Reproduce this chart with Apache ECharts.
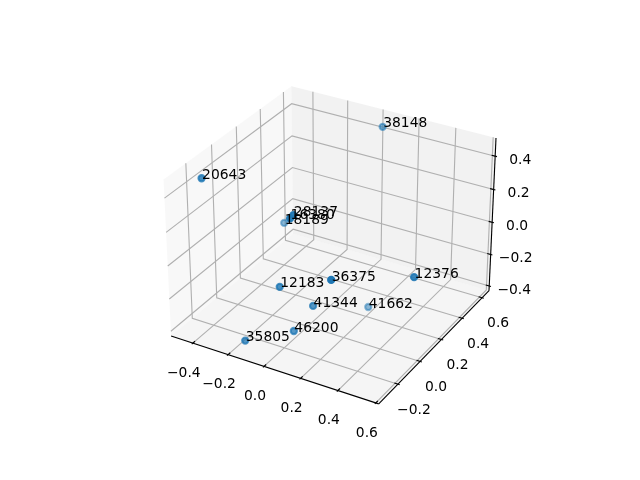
<!DOCTYPE html>
<html>
<head>
<meta charset="utf-8">
<style>html,body{margin:0;background:#fff}#chart{width:640px;height:480px}</style>
<script src="https://cdn.jsdelivr.net/npm/echarts@6/dist/echarts.min.js"></script>
</head>
<body>
<div id="chart"></div>
<script>
var pointLabels = ['38148', '20643', '28137', '16380', '18189', '12376', '36375', '12183', '41344', '41662', '46200', '35805'];
var xValues = [0.060, -0.438, 0.068, 0.059, -0.284, 0.575, 0.335, 0.004, 0.117, 0.177, 0.068, -0.119];
var yValues = [0.568, -0.202, -0.214, -0.227, 0.234, -0.004, -0.321, -0.236, -0.133, 0.259, -0.221, -0.343];
var zValues = [0.473, 0.447, 0.394, 0.380, -0.025, 0.068, 0.172, -0.033, -0.176, -0.417, -0.288, -0.331];

var xLimits = [-0.525, 0.615];
var yLimits = [-0.368, 0.671];
var zLimits = [-0.43, 0.507];
var xTicks = [-0.4, -0.2, 0, 0.2, 0.4, 0.6];
var yTicks = [-0.2, 0, 0.2, 0.4, 0.6];
var zTicks = [-0.4, -0.2, 0, 0.2, 0.4];
var xTickLabels = ['\u22120.4', '\u22120.2', '0.0', '0.2', '0.4', '0.6'];
var yTickLabels = ['\u22120.2', '0.0', '0.2', '0.4', '0.6'];
var zTickLabels = ['\u22120.4', '\u22120.2', '0.0', '0.2', '0.4'];

// same camera as a default matplotlib 3d axes: azim -60, elev 30, dist 10
var boxSize = [1.1905, 1.1905, 0.8929];
var camU = [0.866025, 0.5, 0];
var camV = [-0.25, 0.433013, 0.866025];
var camW = [0.433013, -0.75, 0.5];
var camDist = 10;

function boxDelta(p) {
	return [
		((p[0] - xLimits[0]) / (xLimits[1] - xLimits[0]) - 0.5) * boxSize[0],
		((p[1] - yLimits[0]) / (yLimits[1] - yLimits[0]) - 0.5) * boxSize[1],
		((p[2] - zLimits[0]) / (zLimits[1] - zLimits[0]) - 0.5) * boxSize[2]
	];
}
function dot(a, b) {
	return a[0] * b[0] + a[1] * b[1] + a[2] * b[2];
}
function depth(p) {
	return dot(boxDelta(p), camW);
}
function project(p) {
	var d = boxDelta(p);
	var s = camDist - dot(d, camW);
	return [dot(d, camU) / s, dot(d, camV) / s];
}

var xa = xLimits[0], xb = xLimits[1], ya = yLimits[0], yb = yLimits[1], za = zLimits[0], zb = zLimits[1];

var panes = [
	{ color: 'rgba(242,242,242,0.5)', pts: [[xa, ya, za], [xa, yb, za], [xa, yb, zb], [xa, ya, zb]] },
	{ color: 'rgba(230,230,230,0.5)', pts: [[xa, yb, za], [xb, yb, za], [xb, yb, zb], [xa, yb, zb]] },
	{ color: 'rgba(236,236,236,0.5)', pts: [[xa, ya, za], [xb, ya, za], [xb, yb, za], [xa, yb, za]] }
];

var gridLines = [];
var tickLines = [];
var tickTexts = [];
var xTickStep = (yb - ya) / 12;
var yTickStep = (xb - xa) / 12;
xTicks.forEach(function(t, i) {
	gridLines.push([[t, ya, za], [t, yb, za], [t, yb, zb]]);
	tickLines.push([[t, ya - 0.1 * xTickStep, za], [t, ya + 0.2 * xTickStep, za]]);
	tickTexts.push({ at: [t, ya, za], text: xTickLabels[i], dx: -9, dy: 30 });
});
yTicks.forEach(function(t, i) {
	gridLines.push([[xb, t, za], [xa, t, za], [xa, t, zb]]);
	tickLines.push([[xb + 0.1 * yTickStep, t, za], [xb - 0.2 * yTickStep, t, za]]);
	tickTexts.push({ at: [xb, t, za], text: yTickLabels[i], dx: 16, dy: 26 });
});
zTicks.forEach(function(t, i) {
	gridLines.push([[xa, ya, t], [xa, yb, t], [xb, yb, t]]);
	tickLines.push([[xb + 0.1 * yTickStep, yb, t], [xb - 0.2 * yTickStep, yb, t]]);
	tickTexts.push({ at: [xb, yb, t], text: zTickLabels[i], dx: 25, dy: 4 });
});
var axisLines = [
	[[xa, ya, za], [xb, ya, za]],
	[[xb, ya, za], [xb, yb, za]],
	[[xb, yb, za], [xb, yb, zb]]
];

// points, faded with distance from the camera
var points3d = pointLabels.map(function(name, i) {
	return [xValues[i], yValues[i], zValues[i]];
});
var depths = points3d.map(depth);
var nearest = Math.max.apply(null, depths);
var farthest = Math.min.apply(null, depths);
var scatterData = points3d.map(function(p, i) {
	var xy = project(p);
	return {
		name: pointLabels[i],
		value: xy,
		itemStyle: { opacity: 1 - 0.5 * (nearest - depths[i]) / (nearest - farthest) }
	};
});

function polyCoords(api, pts) {
	return pts.map(function(p) {
		return api.coord(project(p));
	});
}
function listSeries(list, z, build) {
	return {
		type: 'custom',
		coordinateSystem: 'cartesian2d',
		silent: true,
		clip: false,
		z: z,
		data: list.map(function(item, i) { return [i]; }),
		encode: { x: 0, y: 0 },
		renderItem: function(params, api) {
			return build(list[params.dataIndex], api);
		}
	};
}
function lineBuilder(color) {
	return function(pts, api) {
		return {
			type: 'polyline',
			shape: { points: polyCoords(api, pts) },
			style: { stroke: color, lineWidth: 1.11, fill: null }
		};
	};
}
function textEl(x, y, text, align, vAlign) {
	return {
		type: 'text',
		style: {
			x: x,
			y: y,
			text: text,
			fill: '#000',
			font: '13.89px "DejaVu Sans"',
			align: align,
			verticalAlign: vAlign
		}
	};
}

var chart = echarts.init(document.getElementById('chart'), null, { renderer: 'canvas' });
chart.setOption({
	animation: false,
	backgroundColor: '#fff',
	grid: { left: 143.2, top: 57.6, width: 369.6, height: 369.6 },
	xAxis: { type: 'value', min: -0.095, max: 0.09, show: false },
	yAxis: { type: 'value', min: -0.095, max: 0.09, show: false },
	series: [
		listSeries(panes, 1, function(pane, api) {
			return {
				type: 'polygon',
				shape: { points: polyCoords(api, pane.pts) },
				style: { fill: pane.color, stroke: null }
			};
		}),
		listSeries(gridLines, 2, lineBuilder('#b0b0b0')),
		listSeries(axisLines, 3, lineBuilder('#000')),
		listSeries(tickLines, 3, lineBuilder('#000')),
		listSeries(tickTexts, 4, function(t, api) {
			var c = api.coord(project(t.at));
			return textEl(c[0] + t.dx, c[1] + t.dy, t.text, 'center', 'middle');
		}),
		{
			type: 'scatter',
			silent: true,
			z: 5,
			symbolSize: 6.2,
			itemStyle: { color: '#1f77b4', borderColor: '#1f77b4', borderWidth: 2.08 },
			data: scatterData
		},
		listSeries(points3d, 6, function(p, api) {
			var c = api.coord(project(p));
			return textEl(c[0] + 0.5, c[1] - 3, pointLabels[points3d.indexOf(p)], 'left', 'middle');
		})
	]
});
</script>
</body>
</html>
